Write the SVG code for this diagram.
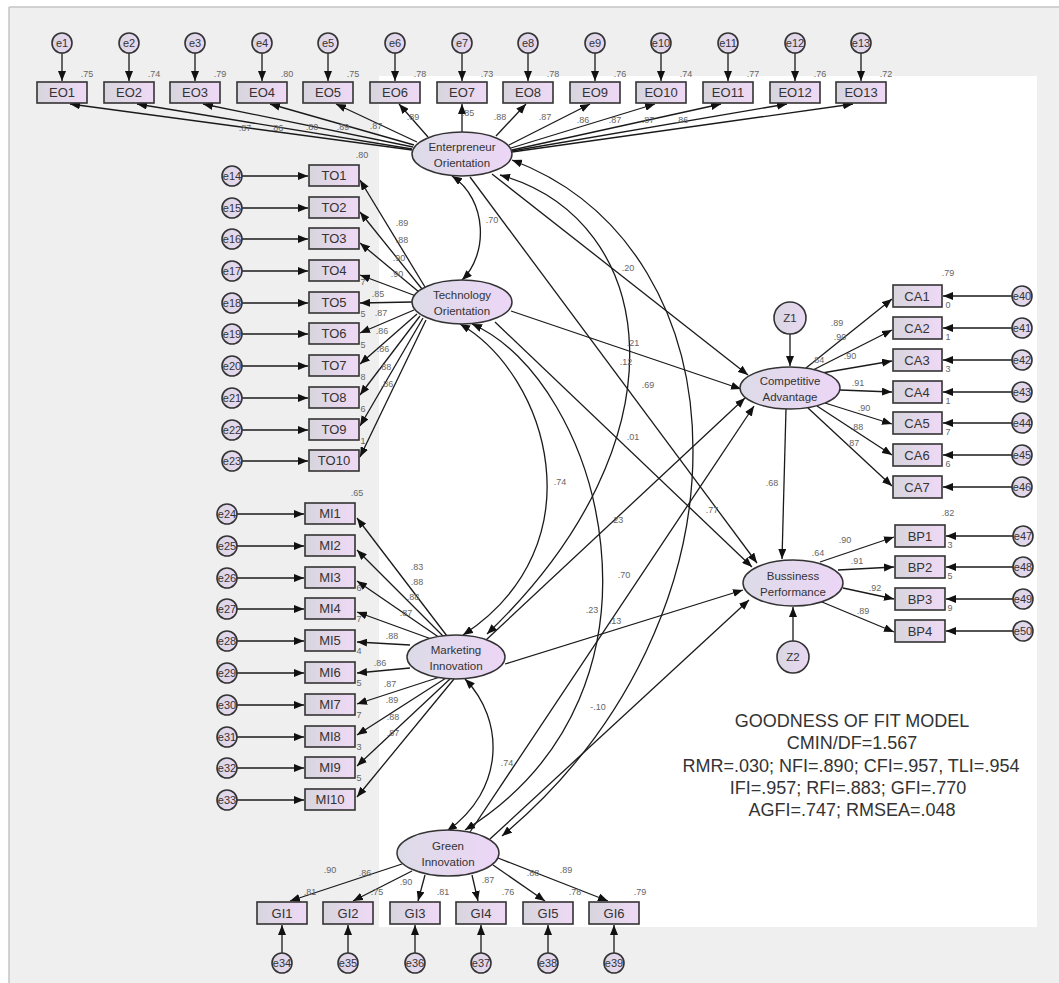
<svg xmlns="http://www.w3.org/2000/svg" width="1059" height="983" viewBox="0 0 1059 983">
<defs>
<linearGradient id="gBox" x1="0" y1="0" x2="1" y2="0"><stop offset="0" stop-color="#d7d5dd"/><stop offset="1" stop-color="#efd9f6"/></linearGradient>
<linearGradient id="gEl" x1="0" y1="0" x2="1" y2="0"><stop offset="0" stop-color="#dddbe8"/><stop offset="1" stop-color="#ecd6f6"/></linearGradient>
<linearGradient id="gCi" x1="0" y1="0" x2="1" y2="0"><stop offset="0" stop-color="#d9d6e2"/><stop offset="1" stop-color="#e9d8f2"/></linearGradient>
<marker id="ah" viewBox="0 0 10 8" refX="10" refY="4" markerWidth="10" markerHeight="8" markerUnits="userSpaceOnUse" orient="auto-start-reverse"><path d="M0,0 L10,4 L0,8 z" fill="#111"/></marker>
<style>
.bx{fill:url(#gBox);stroke:#333;stroke-width:1.6}
.el{fill:url(#gEl);stroke:#333;stroke-width:1.5}
.ci{fill:url(#gCi);stroke:#333;stroke-width:1.6}
.ln{stroke:#1a1a1a;stroke-width:1.3;fill:none;marker-end:url(#ah)}
.cv{stroke:#1a1a1a;stroke-width:1.3;fill:none;marker-start:url(#ah);marker-end:url(#ah)}
.t{font-family:"Liberation Sans",Arial,sans-serif;fill:#333;text-anchor:middle}
.bt{font-size:13px}
.et{font-size:11px}
.ct{font-size:9px;fill:#666}
.lt{font-size:11.5px}
.gf{font-size:18px;fill:#333}
</style>
</defs>
<g id="background">
<rect x="0" y="0" width="1059" height="983" fill="#ffffff"/>
<rect x="9" y="7" width="1050" height="976" fill="#efefef"/>
<line x1="9" y1="7" x2="1059" y2="7" stroke="#c4c4c4" stroke-width="1.5"/>
<line x1="9" y1="7" x2="9" y2="983" stroke="#c4c4c4" stroke-width="1.5"/>
<rect x="379" y="76" width="658" height="851" fill="#ffffff"/>
</g>
<g id="connectors">
<!-- error to EO -->
<line class="ln" x1="62" y1="53" x2="62" y2="81"/>
<line class="ln" x1="129" y1="53" x2="129" y2="81"/>
<line class="ln" x1="195" y1="53" x2="195" y2="81"/>
<line class="ln" x1="262" y1="53" x2="262" y2="81"/>
<line class="ln" x1="328" y1="53" x2="328" y2="81"/>
<line class="ln" x1="395" y1="53" x2="395" y2="81"/>
<line class="ln" x1="462" y1="53" x2="462" y2="81"/>
<line class="ln" x1="528" y1="53" x2="528" y2="81"/>
<line class="ln" x1="595" y1="53" x2="595" y2="81"/>
<line class="ln" x1="661" y1="53" x2="661" y2="81"/>
<line class="ln" x1="728" y1="53" x2="728" y2="81"/>
<line class="ln" x1="795" y1="53" x2="795" y2="81"/>
<line class="ln" x1="861" y1="53" x2="861" y2="81"/>
<!-- EO loadings -->
<line class="ln" x1="412" y1="150" x2="70" y2="104"/>
<line class="ln" x1="412" y1="149" x2="137" y2="104"/>
<line class="ln" x1="413" y1="147" x2="203" y2="104"/>
<line class="ln" x1="414" y1="145" x2="270" y2="104"/>
<line class="ln" x1="417" y1="142" x2="336" y2="104"/>
<line class="ln" x1="428" y1="137" x2="399" y2="104"/>
<line class="ln" x1="462" y1="132" x2="462" y2="104"/>
<line class="ln" x1="496" y1="136" x2="526" y2="104"/>
<line class="ln" x1="509" y1="145" x2="590" y2="104"/>
<line class="ln" x1="511" y1="148" x2="655" y2="104"/>
<line class="ln" x1="512" y1="150" x2="721" y2="104"/>
<line class="ln" x1="512" y1="151" x2="787" y2="104"/>
<line class="ln" x1="512" y1="152" x2="853" y2="104"/>
<!-- errors to TO -->
<line class="ln" x1="242" y1="176" x2="308" y2="176"/>
<line class="ln" x1="242" y1="208" x2="308" y2="208"/>
<line class="ln" x1="242" y1="239" x2="308" y2="239"/>
<line class="ln" x1="242" y1="271" x2="308" y2="271"/>
<line class="ln" x1="242" y1="303" x2="308" y2="303"/>
<line class="ln" x1="242" y1="334" x2="308" y2="334"/>
<line class="ln" x1="242" y1="366" x2="308" y2="366"/>
<line class="ln" x1="242" y1="398" x2="308" y2="398"/>
<line class="ln" x1="242" y1="430" x2="308" y2="430"/>
<line class="ln" x1="242" y1="461" x2="308" y2="461"/>
<!-- TO loadings -->
<line class="ln" x1="425" y1="287" x2="360" y2="180"/>
<line class="ln" x1="422" y1="289" x2="360" y2="212"/>
<line class="ln" x1="419" y1="292" x2="360" y2="243"/>
<line class="ln" x1="416" y1="296" x2="360" y2="275"/>
<line class="ln" x1="412" y1="302" x2="360" y2="303"/>
<line class="ln" x1="414" y1="310" x2="360" y2="333"/>
<line class="ln" x1="417" y1="314" x2="360" y2="364"/>
<line class="ln" x1="420" y1="316" x2="360" y2="395"/>
<line class="ln" x1="423" y1="318" x2="360" y2="426"/>
<line class="ln" x1="426" y1="320" x2="360" y2="457"/>
<!-- errors to MI -->
<line class="ln" x1="237" y1="514" x2="304" y2="514"/>
<line class="ln" x1="237" y1="546" x2="304" y2="546"/>
<line class="ln" x1="237" y1="578" x2="304" y2="578"/>
<line class="ln" x1="237" y1="609" x2="304" y2="609"/>
<line class="ln" x1="237" y1="641" x2="304" y2="641"/>
<line class="ln" x1="237" y1="673" x2="304" y2="673"/>
<line class="ln" x1="237" y1="705" x2="304" y2="705"/>
<line class="ln" x1="237" y1="737" x2="304" y2="737"/>
<line class="ln" x1="237" y1="768" x2="304" y2="768"/>
<line class="ln" x1="237" y1="800" x2="304" y2="800"/>
<!-- MI loadings -->
<line class="ln" x1="447" y1="636" x2="357" y2="518"/>
<line class="ln" x1="444" y1="637" x2="357" y2="550"/>
<line class="ln" x1="440" y1="638" x2="357" y2="581"/>
<line class="ln" x1="434" y1="640" x2="357" y2="612"/>
<line class="ln" x1="410" y1="645" x2="357" y2="642"/>
<line class="ln" x1="410" y1="668" x2="357" y2="673"/>
<line class="ln" x1="440" y1="677" x2="357" y2="704"/>
<line class="ln" x1="446" y1="678" x2="357" y2="735"/>
<line class="ln" x1="450" y1="679" x2="357" y2="766"/>
<line class="ln" x1="454" y1="679" x2="357" y2="797"/>
<!-- GI loadings and errors -->
<line class="ln" x1="402" y1="864" x2="290" y2="901"/>
<line class="ln" x1="412" y1="871" x2="353" y2="901"/>
<line class="ln" x1="425" y1="875" x2="418" y2="901"/>
<line class="ln" x1="472" y1="875" x2="478" y2="901"/>
<line class="ln" x1="493" y1="865" x2="545" y2="901"/>
<line class="ln" x1="498" y1="858" x2="608" y2="901"/>
<line class="ln" x1="282" y1="953" x2="282" y2="925"/>
<line class="ln" x1="348" y1="953" x2="348" y2="925"/>
<line class="ln" x1="415" y1="953" x2="415" y2="925"/>
<line class="ln" x1="481" y1="953" x2="481" y2="925"/>
<line class="ln" x1="548" y1="953" x2="548" y2="925"/>
<line class="ln" x1="614" y1="953" x2="614" y2="925"/>
<!-- CA -->
<line class="ln" x1="790" y1="334" x2="790" y2="366"/>
<line class="ln" x1="806" y1="368" x2="892" y2="299"/>
<line class="ln" x1="813" y1="370" x2="892" y2="330"/>
<line class="ln" x1="822" y1="373" x2="892" y2="361"/>
<line class="ln" x1="840" y1="390" x2="892" y2="392"/>
<line class="ln" x1="825" y1="403" x2="892" y2="424"/>
<line class="ln" x1="817" y1="406" x2="892" y2="455"/>
<line class="ln" x1="808" y1="408" x2="892" y2="486"/>
<line class="ln" x1="1012" y1="296" x2="943" y2="296"/>
<line class="ln" x1="1012" y1="328" x2="943" y2="328"/>
<line class="ln" x1="1012" y1="360" x2="943" y2="360"/>
<line class="ln" x1="1012" y1="392" x2="943" y2="392"/>
<line class="ln" x1="1012" y1="423" x2="943" y2="423"/>
<line class="ln" x1="1012" y1="455" x2="943" y2="455"/>
<line class="ln" x1="1012" y1="487" x2="943" y2="487"/>
<!-- BP -->
<line class="ln" x1="793" y1="641" x2="793" y2="607"/>
<line class="ln" x1="820" y1="562" x2="894" y2="537"/>
<line class="ln" x1="838" y1="570" x2="894" y2="567"/>
<line class="ln" x1="843" y1="588" x2="894" y2="599"/>
<line class="ln" x1="822" y1="602" x2="894" y2="632"/>
<line class="ln" x1="1013" y1="536" x2="946" y2="536"/>
<line class="ln" x1="1013" y1="567" x2="946" y2="567"/>
<line class="ln" x1="1013" y1="599" x2="946" y2="599"/>
<line class="ln" x1="1013" y1="631" x2="946" y2="631"/>
<line class="ln" x1="786" y1="409" x2="782" y2="559"/>
<!-- structural paths -->
<line class="ln" x1="492" y1="174" x2="748" y2="375"/>
<line class="ln" x1="470" y1="177" x2="757" y2="563"/>
<line class="ln" x1="511" y1="311" x2="741" y2="389"/>
<line class="ln" x1="495" y1="322" x2="752" y2="567"/>
<line class="ln" x1="486" y1="640" x2="745" y2="398"/>
<line class="ln" x1="505" y1="664" x2="743" y2="590"/>
<line class="ln" x1="470" y1="832" x2="754" y2="406"/>
<line class="ln" x1="490" y1="839" x2="749" y2="600"/>
<!-- covariances -->
<path class="cv" d="M452,176 C488,200 488,255 462,280"/>
<path class="cv" d="M500,175 C660,220 690,440 487,634"/>
<path class="cv" d="M512,160 C750,250 760,620 502,836"/>
<path class="cv" d="M460,324 C548,375 600,545 463,635"/>
<path class="cv" d="M472,324 C600,380 690,690 465,830"/>
<path class="cv" d="M465,679 C505,720 505,790 447,831"/>
<!-- coefficient labels -->
<g class="t ct">
<text x="245" y="131">.87</text><text x="277" y="131">.86</text><text x="312" y="130">.80</text><text x="343" y="130">.89</text><text x="376" y="129">.87</text><text x="413" y="120">.89</text><text x="468" y="116">.85</text><text x="500" y="120">.88</text><text x="545" y="120">.87</text><text x="583" y="123">.86</text><text x="615" y="123">.87</text><text x="648" y="123">.87</text><text x="682" y="123">.86</text>
<text x="402" y="226">.89</text><text x="402" y="243">.88</text><text x="399" y="261">.90</text><text x="397" y="277">.90</text><text x="378" y="297">.85</text><text x="381" y="316">.87</text><text x="382" y="334">.86</text><text x="383" y="352">.86</text><text x="385" y="370">.88</text><text x="387" y="387">.86</text>
<text x="417" y="570">.83</text><text x="417" y="585">.88</text><text x="413" y="600">.88</text><text x="406" y="616">.87</text><text x="392" y="639">.88</text><text x="380" y="666">.86</text><text x="390" y="687">.87</text><text x="392" y="703">.89</text><text x="393" y="720">.88</text><text x="393" y="736">.87</text>
<text x="330" y="873">.90</text><text x="365" y="876">.86</text><text x="406" y="885">.90</text><text x="488" y="883">.87</text><text x="533" y="876">.88</text><text x="566" y="873">.89</text>
<text x="837" y="326">.89</text><text x="840" y="340">.90</text><text x="818" y="363">.84</text><text x="850" y="359">.90</text><text x="858" y="386">.91</text><text x="864" y="411">.90</text><text x="857" y="430">.88</text><text x="853" y="446">.87</text>
<text x="845" y="543">.90</text><text x="818" y="556">.64</text><text x="857" y="564">.91</text><text x="875" y="591">.92</text><text x="863" y="614">.89</text>
<text x="772" y="486">.68</text>
<text x="492" y="223">.70</text><text x="628" y="271">.20</text><text x="633" y="346">.21</text><text x="626" y="365">.12</text><text x="648" y="388">.69</text><text x="633" y="440">.01</text><text x="560" y="485">.74</text><text x="617" y="523">.23</text><text x="712" y="513">.77</text><text x="624" y="578">.70</text><text x="592" y="613">.23</text><text x="615" y="624">.13</text><text x="598" y="710">-.10</text><text x="507" y="766">.74</text>
</g>
</g>
<!-- EO -->
<g id="e1"><circle class="ci" cx="62" cy="43" r="10"/><text class="t et" x="62" y="47">e1</text></g>
<g id="e2"><circle class="ci" cx="129" cy="43" r="10"/><text class="t et" x="129" y="47">e2</text></g>
<g id="e3"><circle class="ci" cx="195" cy="43" r="10"/><text class="t et" x="195" y="47">e3</text></g>
<g id="e4"><circle class="ci" cx="262" cy="43" r="10"/><text class="t et" x="262" y="47">e4</text></g>
<g id="e5"><circle class="ci" cx="328" cy="43" r="10"/><text class="t et" x="328" y="47">e5</text></g>
<g id="e6"><circle class="ci" cx="395" cy="43" r="10"/><text class="t et" x="395" y="47">e6</text></g>
<g id="e7"><circle class="ci" cx="462" cy="43" r="10"/><text class="t et" x="462" y="47">e7</text></g>
<g id="e8"><circle class="ci" cx="528" cy="43" r="10"/><text class="t et" x="528" y="47">e8</text></g>
<g id="e9"><circle class="ci" cx="595" cy="43" r="10"/><text class="t et" x="595" y="47">e9</text></g>
<g id="e10"><circle class="ci" cx="661" cy="43" r="10"/><text class="t et" x="661" y="47">e10</text></g>
<g id="e11"><circle class="ci" cx="728" cy="43" r="10"/><text class="t et" x="728" y="47">e11</text></g>
<g id="e12"><circle class="ci" cx="795" cy="43" r="10"/><text class="t et" x="795" y="47">e12</text></g>
<g id="e13"><circle class="ci" cx="861" cy="43" r="10"/><text class="t et" x="861" y="47">e13</text></g>
<g id="EO1"><rect class="bx" x="37" y="82" width="50" height="21"/><text class="t bt" x="62" y="97">EO1</text><text class="t ct" x="87" y="77">.75</text></g>
<g id="EO2"><rect class="bx" x="104" y="82" width="50" height="21"/><text class="t bt" x="129" y="97">EO2</text><text class="t ct" x="154" y="77">.74</text></g>
<g id="EO3"><rect class="bx" x="170" y="82" width="50" height="21"/><text class="t bt" x="195" y="97">EO3</text><text class="t ct" x="220" y="77">.79</text></g>
<g id="EO4"><rect class="bx" x="237" y="82" width="50" height="21"/><text class="t bt" x="262" y="97">EO4</text><text class="t ct" x="287" y="77">.80</text></g>
<g id="EO5"><rect class="bx" x="303" y="82" width="50" height="21"/><text class="t bt" x="328" y="97">EO5</text><text class="t ct" x="353" y="77">.75</text></g>
<g id="EO6"><rect class="bx" x="370" y="82" width="50" height="21"/><text class="t bt" x="395" y="97">EO6</text><text class="t ct" x="420" y="77">.78</text></g>
<g id="EO7"><rect class="bx" x="437" y="82" width="50" height="21"/><text class="t bt" x="462" y="97">EO7</text><text class="t ct" x="487" y="77">.73</text></g>
<g id="EO8"><rect class="bx" x="503" y="82" width="50" height="21"/><text class="t bt" x="528" y="97">EO8</text><text class="t ct" x="553" y="77">.78</text></g>
<g id="EO9"><rect class="bx" x="570" y="82" width="50" height="21"/><text class="t bt" x="595" y="97">EO9</text><text class="t ct" x="620" y="77">.76</text></g>
<g id="EO10"><rect class="bx" x="636" y="82" width="50" height="21"/><text class="t bt" x="661" y="97">EO10</text><text class="t ct" x="686" y="77">.74</text></g>
<g id="EO11"><rect class="bx" x="703" y="82" width="50" height="21"/><text class="t bt" x="728" y="97">EO11</text><text class="t ct" x="753" y="77">.77</text></g>
<g id="EO12"><rect class="bx" x="770" y="82" width="50" height="21"/><text class="t bt" x="795" y="97">EO12</text><text class="t ct" x="820" y="77">.76</text></g>
<g id="EO13"><rect class="bx" x="836" y="82" width="50" height="21"/><text class="t bt" x="861" y="97">EO13</text><text class="t ct" x="886" y="77">.72</text></g>
<g id="EnterpreneurOrientation"><ellipse class="el" cx="462" cy="154" rx="50" ry="22"/><text class="t lt" x="462" y="151">Enterpreneur</text><text class="t lt" x="462" y="167">Orientation</text></g>
<!-- TO -->
<g id="e14"><circle class="ci" cx="232" cy="176" r="10"/><text class="t et" x="232" y="180">e14</text></g>
<g id="e15"><circle class="ci" cx="232" cy="208" r="10"/><text class="t et" x="232" y="212">e15</text></g>
<g id="e16"><circle class="ci" cx="232" cy="239" r="10"/><text class="t et" x="232" y="243">e16</text></g>
<g id="e17"><circle class="ci" cx="232" cy="271" r="10"/><text class="t et" x="232" y="275">e17</text></g>
<g id="e18"><circle class="ci" cx="232" cy="303" r="10"/><text class="t et" x="232" y="307">e18</text></g>
<g id="e19"><circle class="ci" cx="232" cy="334" r="10"/><text class="t et" x="232" y="338">e19</text></g>
<g id="e20"><circle class="ci" cx="232" cy="366" r="10"/><text class="t et" x="232" y="370">e20</text></g>
<g id="e21"><circle class="ci" cx="232" cy="398" r="10"/><text class="t et" x="232" y="402">e21</text></g>
<g id="e22"><circle class="ci" cx="232" cy="430" r="10"/><text class="t et" x="232" y="434">e22</text></g>
<g id="e23"><circle class="ci" cx="232" cy="461" r="10"/><text class="t et" x="232" y="465">e23</text></g>
<g id="TO1"><rect class="bx" x="309" y="165" width="50" height="21"/><text class="t bt" x="334" y="180">TO1</text><text class="t ct" x="362" y="158">.80</text></g>
<g id="TO2"><rect class="bx" x="309" y="197" width="50" height="21"/><text class="t bt" x="334" y="212">TO2</text></g>
<g id="TO3"><rect class="bx" x="309" y="228" width="50" height="21"/><text class="t bt" x="334" y="243">TO3</text></g>
<g id="TO4"><rect class="bx" x="309" y="260" width="50" height="21"/><text class="t bt" x="334" y="275">TO4</text><text class="t ct" x="363" y="285">7</text></g>
<g id="TO5"><rect class="bx" x="309" y="292" width="50" height="21"/><text class="t bt" x="334" y="307">TO5</text><text class="t ct" x="363" y="317">5</text></g>
<g id="TO6"><rect class="bx" x="309" y="323" width="50" height="21"/><text class="t bt" x="334" y="338">TO6</text><text class="t ct" x="363" y="348">5</text></g>
<g id="TO7"><rect class="bx" x="309" y="355" width="50" height="21"/><text class="t bt" x="334" y="370">TO7</text><text class="t ct" x="363" y="380">8</text></g>
<g id="TO8"><rect class="bx" x="309" y="387" width="50" height="21"/><text class="t bt" x="334" y="402">TO8</text><text class="t ct" x="363" y="412">6</text></g>
<g id="TO9"><rect class="bx" x="309" y="419" width="50" height="21"/><text class="t bt" x="334" y="434">TO9</text><text class="t ct" x="363" y="444">1</text></g>
<g id="TO10"><rect class="bx" x="309" y="450" width="50" height="21"/><text class="t bt" x="334" y="465">TO10</text></g>
<g id="TechnologyOrientation"><ellipse class="el" cx="462" cy="302" rx="50" ry="22"/><text class="t lt" x="462" y="299">Technology</text><text class="t lt" x="462" y="315">Orientation</text></g>
<!-- MI -->
<g id="e24"><circle class="ci" cx="227" cy="514" r="10"/><text class="t et" x="227" y="518">e24</text></g>
<g id="e25"><circle class="ci" cx="227" cy="546" r="10"/><text class="t et" x="227" y="550">e25</text></g>
<g id="e26"><circle class="ci" cx="227" cy="578" r="10"/><text class="t et" x="227" y="582">e26</text></g>
<g id="e27"><circle class="ci" cx="227" cy="609" r="10"/><text class="t et" x="227" y="613">e27</text></g>
<g id="e28"><circle class="ci" cx="227" cy="641" r="10"/><text class="t et" x="227" y="645">e28</text></g>
<g id="e29"><circle class="ci" cx="227" cy="673" r="10"/><text class="t et" x="227" y="677">e29</text></g>
<g id="e30"><circle class="ci" cx="227" cy="705" r="10"/><text class="t et" x="227" y="709">e30</text></g>
<g id="e31"><circle class="ci" cx="227" cy="737" r="10"/><text class="t et" x="227" y="741">e31</text></g>
<g id="e32"><circle class="ci" cx="227" cy="768" r="10"/><text class="t et" x="227" y="772">e32</text></g>
<g id="e33"><circle class="ci" cx="227" cy="800" r="10"/><text class="t et" x="227" y="804">e33</text></g>
<g id="MI1"><rect class="bx" x="305" y="503" width="50" height="21"/><text class="t bt" x="330" y="518">MI1</text><text class="t ct" x="357" y="496">.65</text></g>
<g id="MI2"><rect class="bx" x="305" y="535" width="50" height="21"/><text class="t bt" x="330" y="550">MI2</text></g>
<g id="MI3"><rect class="bx" x="305" y="567" width="50" height="21"/><text class="t bt" x="330" y="582">MI3</text><text class="t ct" x="359" y="591">6</text></g>
<g id="MI4"><rect class="bx" x="305" y="598" width="50" height="21"/><text class="t bt" x="330" y="613">MI4</text><text class="t ct" x="359" y="622">7</text></g>
<g id="MI5"><rect class="bx" x="305" y="630" width="50" height="21"/><text class="t bt" x="330" y="645">MI5</text><text class="t ct" x="359" y="654">4</text></g>
<g id="MI6"><rect class="bx" x="305" y="662" width="50" height="21"/><text class="t bt" x="330" y="677">MI6</text><text class="t ct" x="359" y="686">5</text></g>
<g id="MI7"><rect class="bx" x="305" y="694" width="50" height="21"/><text class="t bt" x="330" y="709">MI7</text><text class="t ct" x="359" y="718">7</text></g>
<g id="MI8"><rect class="bx" x="305" y="726" width="50" height="21"/><text class="t bt" x="330" y="741">MI8</text><text class="t ct" x="359" y="750">3</text></g>
<g id="MI9"><rect class="bx" x="305" y="757" width="50" height="21"/><text class="t bt" x="330" y="772">MI9</text><text class="t ct" x="359" y="781">5</text></g>
<g id="MI10"><rect class="bx" x="305" y="789" width="50" height="21"/><text class="t bt" x="330" y="804">MI10</text></g>
<g id="MarketingInnovation"><ellipse class="el" cx="456" cy="657" rx="49" ry="22"/><text class="t lt" x="456" y="654">Marketing</text><text class="t lt" x="456" y="670">Innovation</text></g>
<!-- GI -->
<g id="GreenInnovation"><ellipse class="el" cx="448" cy="853" rx="51" ry="23"/><text class="t lt" x="448" y="850">Green</text><text class="t lt" x="448" y="866">Innovation</text></g>
<g id="GI1"><rect class="bx" x="257" y="902" width="50" height="22"/><text class="t bt" x="282" y="918">GI1</text><text class="t ct" x="310" y="895">.81</text></g>
<g id="GI2"><rect class="bx" x="323" y="902" width="50" height="22"/><text class="t bt" x="348" y="918">GI2</text><text class="t ct" x="377" y="895">.75</text></g>
<g id="GI3"><rect class="bx" x="390" y="902" width="50" height="22"/><text class="t bt" x="415" y="918">GI3</text><text class="t ct" x="443" y="895">.81</text></g>
<g id="GI4"><rect class="bx" x="456" y="902" width="50" height="22"/><text class="t bt" x="481" y="918">GI4</text><text class="t ct" x="508" y="895">.76</text></g>
<g id="GI5"><rect class="bx" x="523" y="902" width="50" height="22"/><text class="t bt" x="548" y="918">GI5</text><text class="t ct" x="575" y="895">.78</text></g>
<g id="GI6"><rect class="bx" x="589" y="902" width="50" height="22"/><text class="t bt" x="614" y="918">GI6</text><text class="t ct" x="640" y="895">.79</text></g>
<g id="e34"><circle class="ci" cx="282" cy="963" r="10"/><text class="t et" x="282" y="967">e34</text></g>
<g id="e35"><circle class="ci" cx="348" cy="963" r="10"/><text class="t et" x="348" y="967">e35</text></g>
<g id="e36"><circle class="ci" cx="415" cy="963" r="10"/><text class="t et" x="415" y="967">e36</text></g>
<g id="e37"><circle class="ci" cx="481" cy="963" r="10"/><text class="t et" x="481" y="967">e37</text></g>
<g id="e38"><circle class="ci" cx="548" cy="963" r="10"/><text class="t et" x="548" y="967">e38</text></g>
<g id="e39"><circle class="ci" cx="614" cy="963" r="10"/><text class="t et" x="614" y="967">e39</text></g>
<!-- CA -->
<g id="Z1"><circle class="ci" cx="790" cy="318" r="16"/><text class="t lt" x="790" y="322">Z1</text></g>
<g id="CompetitiveAdvantage"><ellipse class="el" cx="790" cy="388" rx="50" ry="21"/><text class="t lt" x="790" y="385">Competitive</text><text class="t lt" x="790" y="401">Advantage</text></g>
<g id="CA1"><rect class="bx" x="893" y="285" width="49" height="22"/><text class="t bt" x="917" y="301">CA1</text><text class="t ct" x="948" y="276">.79</text><text class="t ct" x="948" y="308">0</text></g>
<g id="CA2"><rect class="bx" x="893" y="317" width="49" height="22"/><text class="t bt" x="917" y="333">CA2</text><text class="t ct" x="948" y="340">1</text></g>
<g id="CA3"><rect class="bx" x="893" y="349" width="49" height="22"/><text class="t bt" x="917" y="365">CA3</text><text class="t ct" x="948" y="372">3</text></g>
<g id="CA4"><rect class="bx" x="893" y="381" width="49" height="22"/><text class="t bt" x="917" y="397">CA4</text><text class="t ct" x="948" y="404">1</text></g>
<g id="CA5"><rect class="bx" x="893" y="412" width="49" height="22"/><text class="t bt" x="917" y="428">CA5</text><text class="t ct" x="948" y="435">7</text></g>
<g id="CA6"><rect class="bx" x="893" y="444" width="49" height="22"/><text class="t bt" x="917" y="460">CA6</text><text class="t ct" x="948" y="467">6</text></g>
<g id="CA7"><rect class="bx" x="893" y="476" width="49" height="22"/><text class="t bt" x="917" y="492">CA7</text></g>
<g id="e40"><circle class="ci" cx="1022" cy="296" r="10"/><text class="t et" x="1022" y="300">e40</text></g>
<g id="e41"><circle class="ci" cx="1022" cy="328" r="10"/><text class="t et" x="1022" y="332">e41</text></g>
<g id="e42"><circle class="ci" cx="1022" cy="360" r="10"/><text class="t et" x="1022" y="364">e42</text></g>
<g id="e43"><circle class="ci" cx="1022" cy="392" r="10"/><text class="t et" x="1022" y="396">e43</text></g>
<g id="e44"><circle class="ci" cx="1022" cy="423" r="10"/><text class="t et" x="1022" y="427">e44</text></g>
<g id="e45"><circle class="ci" cx="1022" cy="455" r="10"/><text class="t et" x="1022" y="459">e45</text></g>
<g id="e46"><circle class="ci" cx="1022" cy="487" r="10"/><text class="t et" x="1022" y="491">e46</text></g>
<!-- BP -->
<g id="BussinessPerformance"><ellipse class="el" cx="793" cy="583" rx="50" ry="23"/><text class="t lt" x="793" y="580">Bussiness</text><text class="t lt" x="793" y="596">Performance</text></g>
<g id="Z2"><circle class="ci" cx="793" cy="657" r="16"/><text class="t lt" x="793" y="661">Z2</text></g>
<g id="BP1"><rect class="bx" x="895" y="525" width="50" height="22"/><text class="t bt" x="920" y="541">BP1</text><text class="t ct" x="948" y="516">.82</text><text class="t ct" x="950" y="548">3</text></g>
<g id="BP2"><rect class="bx" x="895" y="556" width="50" height="22"/><text class="t bt" x="920" y="572">BP2</text><text class="t ct" x="950" y="579">5</text></g>
<g id="BP3"><rect class="bx" x="895" y="588" width="50" height="22"/><text class="t bt" x="920" y="604">BP3</text><text class="t ct" x="950" y="611">9</text></g>
<g id="BP4"><rect class="bx" x="895" y="620" width="50" height="22"/><text class="t bt" x="920" y="636">BP4</text></g>
<g id="e47"><circle class="ci" cx="1023" cy="536" r="10"/><text class="t et" x="1023" y="540">e47</text></g>
<g id="e48"><circle class="ci" cx="1023" cy="567" r="10"/><text class="t et" x="1023" y="571">e48</text></g>
<g id="e49"><circle class="ci" cx="1023" cy="599" r="10"/><text class="t et" x="1023" y="603">e49</text></g>
<g id="e50"><circle class="ci" cx="1023" cy="631" r="10"/><text class="t et" x="1023" y="635">e50</text></g>
<!-- fit -->
<g id="fit" class="t gf">
<text x="852" y="727">GOODNESS OF FIT MODEL</text>
<text x="852" y="749">CMIN/DF=1.567</text>
<text x="851" y="772">RMR=.030; NFI=.890; CFI=.957, TLI=.954</text>
<text x="848" y="794">IFI=.957; RFI=.883; GFI=.770</text>
<text x="852" y="816">AGFI=.747; RMSEA=.048</text>
</g>
</svg>
